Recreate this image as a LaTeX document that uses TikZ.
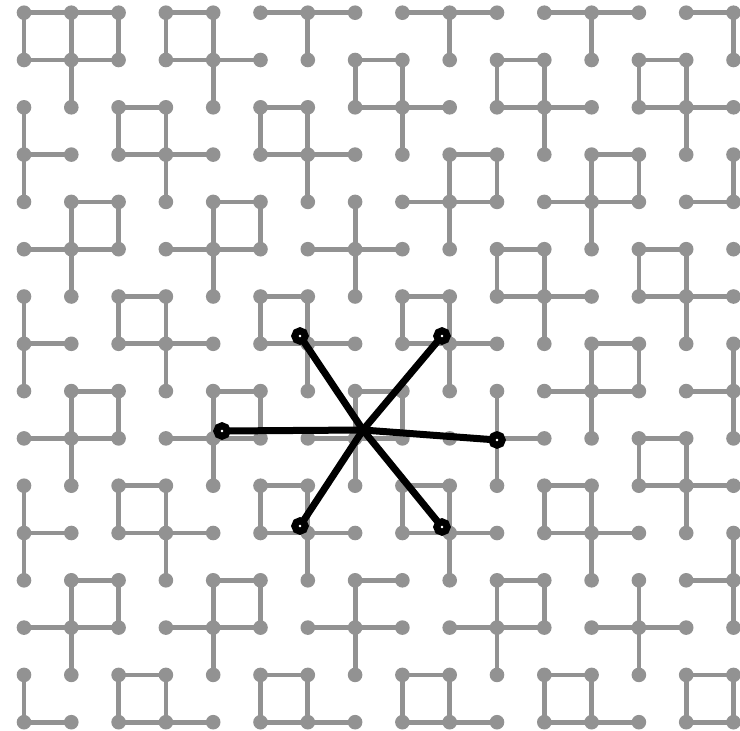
\documentclass[tikz,border=0pt]{standalone}
\usepackage{tikz}
\usepackage{xcolor}
\definecolor{latgray}{RGB}{146,146,146}

\begin{document}
\begin{tikzpicture}[x=1pt,y=-1pt,
  bond/.style={latgray,line width=4.8pt},
  arm/.style={black,line width=7pt,line cap=round},
  ring/.style={draw=black,fill=white,line width=7pt}]
  \useasboundingbox (0,0) rectangle (740,731);
  % lattice sites
  \foreach \c in {0,...,15} \foreach \r in {0,...,15}
    \coordinate (p-\c-\r) at ({24+47.3*\c},{12.7+47.3*\r});
  % horizontal bonds: row / left columns
  \foreach \r/\cs in {0/{0,1,3,5,6,8,9,11,12,14}, 1/{0,1,3,4,7,10,13},
      2/{2,5,7,8,10,11,13,14}, 3/{0,2,3,5,6,9,12}, 4/{1,4,8,9,11,12,14},
      5/{0,1,3,4,6,7,10,13}, 6/{2,5,8,10,11,13,14}, 7/{0,2,3,5,6,8,9,12},
      8/{1,4,7,11,12,14}, 9/{0,1,3,4,6,7,10,13}, 10/{2,5,8,11,13,14},
      11/{0,2,3,5,6,8,9,11,12}, 12/{1,4,7,10,14}, 13/{0,1,3,4,6,7,9,10,12,13},
      14/{2,5,8,11,14}, 15/{0,2,3,5,6,8,9,11,12,14}}
    \foreach \c in \cs {
      \pgfmathtruncatemacro\nxt{\c+1}
      \draw[bond] (p-\c-\r) -- (p-\nxt-\r);
    }
  % vertical bonds: top row / columns
  \foreach \r/\cs in {0/{0,1,2,3,4,6,9,12,15}, 1/{1,4,7,8,10,11,13,14},
      2/{0,2,3,5,6,8,11,14}, 3/{0,3,6,9,10,12,13,15}, 4/{1,2,4,5,7,9,12},
      5/{1,4,7,10,11,13,14}, 6/{0,2,3,5,6,8,9,11,14}, 7/{0,3,6,9,12,13,15},
      8/{1,2,4,5,7,8,10,12,15}, 9/{1,4,7,10,13,14},
      10/{0,2,3,5,6,8,9,11,12,14}, 11/{0,3,6,9,12,15},
      12/{1,2,4,5,7,10,11,13,15}, 13/{1,4,7,10,13},
      14/{0,2,3,5,6,8,9,11,12,14,15}}
    \foreach \c in \cs {
      \pgfmathtruncatemacro\s{\r+1}
      \draw[bond] (p-\c-\r) -- (p-\c-\s);
    }
  \foreach \c in {0,...,15} \foreach \r in {0,...,15}
    \fill[latgray] (p-\c-\r) circle (7.3pt);
  % the six neighbour vectors
  \coordinate (hub) at (363,430);
  \foreach \n/\x/\y in {nw/300/336, ne/442/336, w/222/431, e/497/440, sw/300/526, se/442/527}
    \coordinate (tip-\n) at (\x,\y);
  \foreach \n in {nw,ne,w,e,sw,se} \draw[arm] (hub) -- (tip-\n);
  \foreach \n in {nw,ne,w,e,sw,se} \draw[ring] (tip-\n) circle (5.2pt);
\end{tikzpicture}
\end{document}
